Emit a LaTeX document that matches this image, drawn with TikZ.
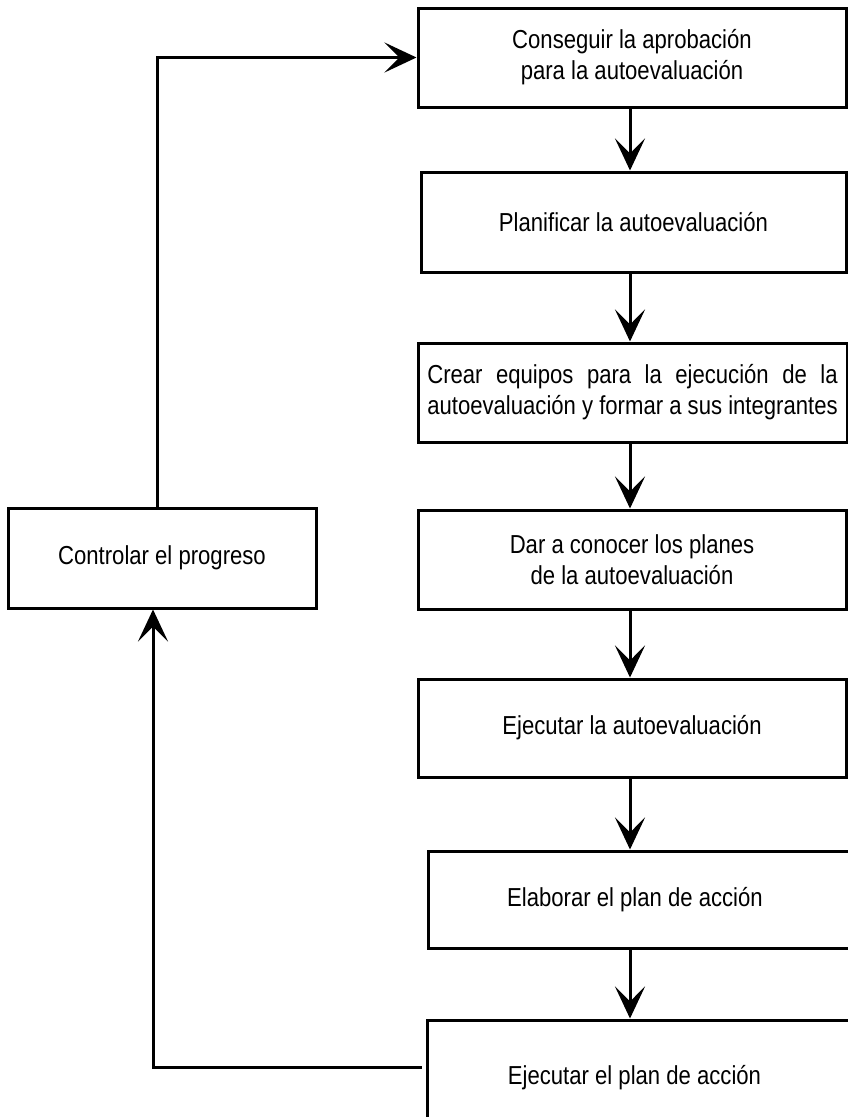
\documentclass[tikz,border=0pt]{standalone}
\usepackage{fontspec}
\setmainfont{Liberation Sans}[FakeStretch=0.85]
\usetikzlibrary{arrows.meta}
\newlength\crearw
\begin{document}
\begin{tikzpicture}[x=1pt,y=-1pt,
  box/.style={draw, line width=3pt, align=center, inner sep=0pt, font=\fontsize{26}{31}\selectfont},
  conn/.style={line width=3pt, -{Stealth[length=32pt,width=30pt,inset=15pt]}}
]
\useasboundingbox (0,0) rectangle (848,1117);
\clip (0,0) rectangle (848,1117);
\node[box, minimum width=428pt, minimum height=99pt] (b1) at (632,57.5) {Conseguir la aprobación\\para la autoevaluación};
\node[box, minimum width=425pt, minimum height=100pt] (b2) at (633.5,222) {Planificar la autoevaluación};
\node[box, minimum width=429pt, minimum height=99pt] (b3) at (632.5,392.5) {\settowidth{\crearw}{autoevaluación y formar a sus integrantes}\makebox[\crearw][s]{Crear equipos para la ejecución de la}\\autoevaluación y formar a sus integrantes};
\node[box, minimum width=428pt, minimum height=99pt] (b4) at (632,559.5) {Dar a conocer los planes\\de la autoevaluación};
\node[box, minimum width=428pt, minimum height=98pt] (b5) at (632,728) {Ejecutar la autoevaluación};
\node[box, minimum width=472pt, minimum height=97pt] (b6) at (664,899.5) {\hspace*{-58pt}Elaborar el plan de acción};
\node[box, minimum width=473pt, minimum height=100pt] (b7) at (663.5,1070) {\hspace*{-58pt}\raisebox{-8pt}[\height][\depth]{Ejecutar el plan de acción}};
\node[box, minimum width=308pt, minimum height=100pt] (ctrl) at (162,558) {Controlar el progreso};
\coordinate (ax) at (630,0);
\coordinate (fl) at (153,1067);
\coordinate (fu) at (157,0);
\draw[conn] (b1.south -| ax) -- (b2.north -| ax);
\draw[conn] (b2.south -| ax) -- (b3.north -| ax);
\draw[conn] (b3.south -| ax) -- (b4.north -| ax);
\draw[conn] (b4.south -| ax) -- (b5.north -| ax);
\draw[conn] (b5.south -| ax) -- (b6.north -| ax);
\draw[conn] (b6.south -| ax) -- (b7.north -| ax);
\draw[conn] ([xshift=-4pt]b7.west |- fl) -- (fl) -- (ctrl.south -| fl);
\draw[conn] (ctrl.north -| fu) -- (fu |- b1.west) -- (b1.west);
\end{tikzpicture}
\end{document}
